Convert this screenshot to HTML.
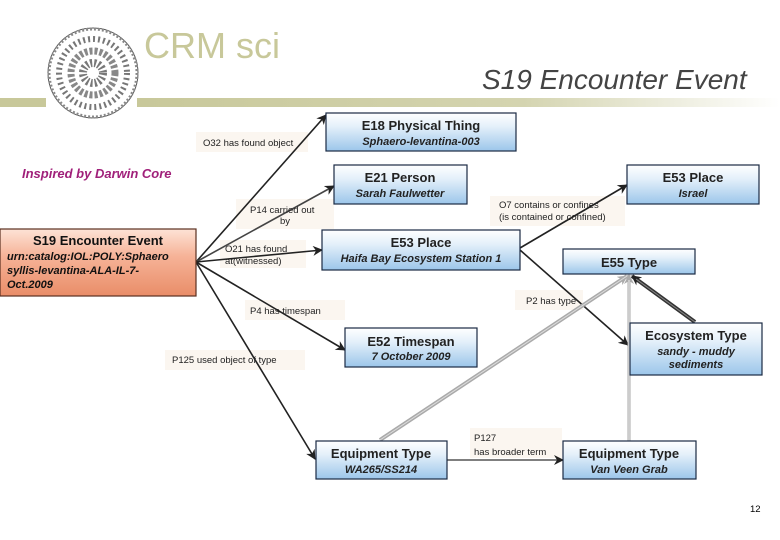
<!DOCTYPE html>
<html><head><meta charset="utf-8"><style>
html,body{margin:0;padding:0;background:#fff;}
svg{display:block;font-family:"Liberation Sans",sans-serif;}
</style></head><body>
<svg width="780" height="540" viewBox="0 0 780 540" xmlns="http://www.w3.org/2000/svg">
<defs>
<linearGradient id="bx" x1="0" y1="0" x2="0" y2="1"><stop offset="0" stop-color="#ffffff"/><stop offset="0.35" stop-color="#e4f0fa"/><stop offset="1" stop-color="#9cc6ea"/></linearGradient>
<linearGradient id="or" x1="0" y1="0" x2="0" y2="1"><stop offset="0" stop-color="#fde3d6"/><stop offset="0.4" stop-color="#f6b398"/><stop offset="1" stop-color="#e98d68"/></linearGradient>
<linearGradient id="bar" x1="0" y1="0" x2="1" y2="0"><stop offset="0" stop-color="#c8c89a"/><stop offset="0.6" stop-color="#d4d4b0"/><stop offset="1" stop-color="#ffffff"/></linearGradient>
<marker id="ar" markerWidth="10" markerHeight="10" refX="9" refY="5" orient="auto" markerUnits="userSpaceOnUse"><path d="M0,0 L10,5 L0,10 L3,5 z" fill="#222"/></marker>
<marker id="ag" markerWidth="10" markerHeight="10" refX="9" refY="5" orient="auto" markerUnits="userSpaceOnUse"><path d="M0,0 L10,5 L0,10 L3,5 z" fill="#aaa"/></marker>
</defs>
<rect x="0" y="98" width="46" height="9" fill="#c8c89a"/>
<rect x="137" y="98" width="643" height="9" fill="url(#bar)"/>
<circle cx="93" cy="73" r="45" fill="#fff" stroke="#555" stroke-width="1"/>
<circle cx="93" cy="73" r="44" fill="none" stroke="#888" stroke-width="3" stroke-dasharray="2 2"/>
<circle cx="93" cy="73" r="34" fill="none" stroke="#777" stroke-width="6" stroke-dasharray="2 3"/>
<circle cx="93" cy="73" r="22" fill="none" stroke="#888" stroke-width="7" stroke-dasharray="3 2"/>
<circle cx="93" cy="73" r="10" fill="none" stroke="#777" stroke-width="8" stroke-dasharray="2 2"/>
<text x="144" y="58" font-size="36" fill="#c8c89a">CRM sci</text>
<text x="482" y="89" font-size="28" font-style="italic" fill="#444">S19 Encounter Event</text>
<text x="22" y="178" font-size="13" font-weight="bold" font-style="italic" fill="#a0207a">Inspired by Darwin Core</text>
<g fill="#fbf6f0">
<rect x="196" y="132" width="112" height="20"/>
<rect x="236" y="199" width="98" height="30"/>
<rect x="220" y="240" width="86" height="28"/>
<rect x="490" y="196" width="135" height="30"/>
<rect x="245" y="300" width="100" height="20"/>
<rect x="515" y="290" width="68" height="20"/>
<rect x="165" y="350" width="140" height="20"/>
<rect x="470" y="428" width="92" height="30"/>
</g>
<g stroke="#222" stroke-width="1.6" fill="none">
<line x1="196" y1="262" x2="326" y2="115" marker-end="url(#ar)"/>
<line x1="196" y1="262" x2="334" y2="186" marker-end="url(#ar)" stroke="#444"/>
<line x1="196" y1="262" x2="322" y2="250" marker-end="url(#ar)"/>
<line x1="196" y1="262" x2="345" y2="350" marker-end="url(#ar)"/>
<line x1="196" y1="262" x2="315" y2="459" marker-end="url(#ar)"/>
<line x1="520" y1="248" x2="627" y2="185" marker-end="url(#ar)"/>
<line x1="520" y1="250" x2="628" y2="345" marker-end="url(#ar)"/>
<line x1="447" y1="460" x2="563" y2="460" marker-end="url(#ar)" stroke="#555"/>
</g>
<g fill="none">
<line x1="380" y1="440" x2="627" y2="276" stroke="#aaa" stroke-width="4" marker-end="url(#ag)"/>
<line x1="380" y1="440" x2="627" y2="276" stroke="#ddd" stroke-width="1"/>
<line x1="629" y1="441" x2="629" y2="275" stroke="#aaa" stroke-width="3" marker-end="url(#ag)"/>
<line x1="629" y1="441" x2="629" y2="280" stroke="#eee" stroke-width="1"/>
<line x1="695" y1="322" x2="632" y2="276" stroke="#333" stroke-width="4" marker-end="url(#ar)"/>
<line x1="695" y1="322" x2="636" y2="279" stroke="#888" stroke-width="1"/>
</g>
<g font-size="9.5" fill="#222">
<text x="203" y="146">O32 has found object</text>
<text x="250" y="213">P14 carried out</text>
<text x="280" y="224">by</text>
<text x="225" y="252">O21 has found</text>
<text x="225" y="264">at(witnessed)</text>
<text x="499" y="208">O7 contains or confines</text>
<text x="499" y="220">(is contained or confined)</text>
<text x="250" y="314">P4 has timespan</text>
<text x="526" y="304">P2 has type</text>
<text x="172" y="363">P125 used object of type</text>
<text x="474" y="441">P127</text>
<text x="474" y="455">has broader term</text>
<text x="750" y="512" fill="#000">12</text>
</g>
<g stroke="#1a2a44" stroke-width="1.2">
<rect x="326" y="113" width="190" height="38" fill="url(#bx)"/>
<rect x="334" y="165" width="133" height="39" fill="url(#bx)"/>
<rect x="627" y="165" width="132" height="39" fill="url(#bx)"/>
<rect x="0" y="229" width="196" height="67" fill="url(#or)" stroke="#5a3020"/>
<rect x="322" y="230" width="198" height="40" fill="url(#bx)"/>
<rect x="563" y="249" width="132" height="25" fill="url(#bx)"/>
<rect x="630" y="323" width="132" height="52" fill="url(#bx)"/>
<rect x="345" y="328" width="132" height="39" fill="url(#bx)"/>
<rect x="316" y="441" width="131" height="38" fill="url(#bx)"/>
<rect x="563" y="441" width="133" height="38" fill="url(#bx)"/>
</g>
<g font-size="13" font-weight="bold" fill="#222" text-anchor="middle">
<text x="421" y="130">E18 Physical Thing</text>
<text x="400" y="182">E21 Person</text>
<text x="693" y="182">E53 Place</text>
<text x="98" y="245" fill="#111">S19 Encounter Event</text>
<text x="421" y="247">E53 Place</text>
<text x="629" y="267">E55 Type</text>
<text x="696" y="340">Ecosystem Type</text>
<text x="411" y="346">E52 Timespan</text>
<text x="381" y="458">Equipment Type</text>
<text x="629" y="458">Equipment Type</text>
</g>
<g font-size="11" font-weight="bold" font-style="italic" fill="#222" text-anchor="middle">
<text x="421" y="145">Sphaero-levantina-003</text>
<text x="400" y="197">Sarah Faulwetter</text>
<text x="693" y="197">Israel</text>
<text x="421" y="262">Haifa Bay Ecosystem Station 1</text>
<text x="696" y="355">sandy - muddy</text>
<text x="696" y="368">sediments</text>
<text x="411" y="360">7 October 2009</text>
<text x="381" y="473">WA265/SS214</text>
<text x="629" y="473">Van Veen Grab</text>
</g>
<g font-size="11" font-weight="bold" font-style="italic" fill="#111">
<text x="7" y="260">urn:catalog:IOL:POLY:Sphaero</text>
<text x="7" y="274">syllis-levantina-ALA-IL-7-</text>
<text x="7" y="288">Oct.2009</text>
</g>
</svg>
</body></html>
